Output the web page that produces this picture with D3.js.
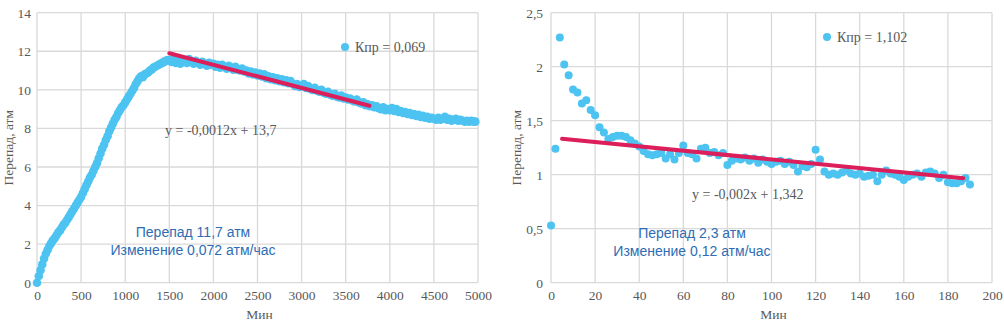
<!DOCTYPE html>
<html><head><meta charset="utf-8">
<script src="https://cdn.jsdelivr.net/npm/d3@7"></script>
<style>
html,body{margin:0;padding:0;background:#fff;}
svg{display:block;}
</style></head>
<body>
<svg id="c" width="1004" height="328"></svg>
<script>
// ---------- DATA ----------
// Left chart, rising part: time (min) and pressure drop (atm)
const leftRiseTime = [0,20,40,60,80,100,120,140,160,180,200,220,240,260,280,300,320,340,360,380,
 400,420,440,460,480,500,520,540,560,580,600,620,640,660,680,700,720,740,760,780,
 800,820,840,860,880,900,920,940,960,980,1000,1020,1040,1060,1080,1100,1120,1140,1160,1180,
 1200,1220,1240,1260,1280,1300,1320,1340,1360,1380,1400,1420,1440,1460,1480];
const leftRiseValue = [0.0,0.35,0.65,0.95,1.25,1.5,1.7,1.9,2.05,2.2,2.3,2.45,2.6,2.7,2.85,3.0,3.1,3.25,3.4,3.55,
 3.7,3.85,4.0,4.15,4.3,4.45,4.65,4.85,5.05,5.25,5.45,5.6,5.8,6.0,6.2,6.45,6.7,6.95,7.15,7.4,
 7.6,7.85,8.05,8.25,8.45,8.6,8.8,8.95,9.1,9.2,9.35,9.5,9.65,9.8,9.95,10.1,10.3,10.45,10.6,10.7,
 10.65,10.8,10.85,10.9,11.0,11.05,11.15,11.2,11.25,11.3,11.35,11.4,11.45,11.5,11.55];
// Left chart, falling part
const leftFallTime = [1500,1525,1550,1575,1600,1625,1650,1675,1700,1725,1750,1775,1800,1825,1850,1875,1900,1925,1950,1975,
 2000,2025,2050,2075,2100,2125,2150,2175,2200,2225,2250,2275,2300,2325,2350,2375,2400,2425,2450,2475,
 2500,2525,2550,2575,2600,2625,2650,2675,2700,2725,2750,2775,2800,2825,2850,2875,2900,2925,2950,2975,
 3000,3025,3050,3075,3100,3125,3150,3175,3200,3225,3250,3275,3300,3325,3350,3375,3400,3425,3450,3475,
 3500,3525,3550,3575,3600,3625,3650,3675,3700,3725,3750,3775,3800,3825,3850,3875,3900,3925,3950,3975,
 4000,4025,4050,4075,4100,4125,4150,4175,4200,4225,4250,4275,4300,4325,4350,4375,4400,4425,4450,4475,
 4500,4525,4550,4575,4600,4625,4650,4675,4700,4725,4750,4775,4800,4825,4850,4875,4900,4925,4950,4970];
const leftFallValue = [11.55,11.45,11.6,11.4,11.5,11.35,11.45,11.55,11.4,11.6,11.45,11.35,11.5,11.4,11.3,11.45,11.35,11.25,11.4,11.3,
 11.35,11.2,11.3,11.15,11.3,11.2,11.1,11.25,11.15,11.05,11.2,11.05,11.0,11.1,10.95,11.0,10.85,10.95,10.8,10.9,
 10.75,10.85,10.7,10.8,10.6,10.7,10.55,10.65,10.5,10.6,10.45,10.55,10.4,10.5,10.35,10.45,10.3,10.2,10.3,10.15,
 10.2,10.3,10.1,10.2,10.05,10.0,10.1,9.95,9.9,10.0,9.85,9.8,9.9,9.75,9.7,9.8,9.65,9.6,9.7,9.55,
 9.6,9.5,9.55,9.45,9.4,9.5,9.35,9.3,9.35,9.2,9.25,9.15,9.2,9.1,9.15,9.05,9.0,9.1,8.95,9.0,
 8.95,9.05,8.9,9.0,8.85,8.9,8.8,8.85,8.75,8.8,8.7,8.75,8.65,8.7,8.6,8.65,8.55,8.6,8.5,8.55,
 8.5,8.45,8.55,8.45,8.5,8.6,8.45,8.5,8.4,8.45,8.5,8.4,8.45,8.4,8.35,8.4,8.35,8.4,8.35,8.35];
const leftXTicks = [0,500,1000,1500,2000,2500,3000,3500,4000,4500,5000];
const leftYTicks = [0,2,4,6,8,10,12,14];
const leftTrend = {slope:-0.0012, intercept:13.7, from:1500, to:3770};
const leftLegend = "Кпр = 0,069";
const leftEquation = "y = -0,0012x + 13,7";
const leftNote = ["Перепад 11,7 атм","Изменение 0,072 атм/час"];

// Right chart
const rightTime = [0,2,4,6,8,10,12,14,16,18,20,22,24,26,28,30,32,34,36,38,40,42,44,46,48,50,52,54,56,58,
 60,62,64,66,68,70,72,74,76,78,80,82,84,86,88,90,92,94,96,98,100,102,104,106,108,110,112,114,116,118,
 120,122,124,126,128,130,132,134,136,138,140,142,144,146,148,150,152,154,156,158,160,162,164,166,168,170,
 172,174,176,178,180,182,184,186,188,190];
const rightValue = [0.53,1.24,2.27,2.02,1.92,1.79,1.76,1.66,1.69,1.60,1.55,1.44,1.39,1.33,1.35,1.36,1.36,1.35,1.32,1.29,
 1.26,1.22,1.19,1.18,1.19,1.20,1.15,1.19,1.14,1.20,1.27,1.20,1.19,1.15,1.24,1.25,1.20,1.21,1.18,1.20,
 1.09,1.13,1.15,1.14,1.16,1.13,1.15,1.11,1.14,1.12,1.10,1.12,1.13,1.10,1.12,1.09,1.03,1.08,1.07,1.10,
 1.23,1.14,1.03,1.00,1.01,1.00,1.02,1.04,1.01,1.00,1.01,0.98,0.99,1.00,0.94,1.00,1.04,1.01,1.00,0.98,
 0.95,0.98,1.00,1.01,0.98,1.02,1.03,1.01,0.97,1.00,0.93,0.92,0.92,0.94,0.97,0.91];
const rightXTicks = [0,20,40,60,80,100,120,140,160,180,200];
const rightYTicks = [0,0.5,1,1.5,2,2.5];
const rightTrend = {slope:-0.002, intercept:1.342, from:5, to:187};
const rightLegend = "Кпр = 1,102";
const rightEquation = "y = -0,002x + 1,342";
const rightNote = ["Перепад 2,3 атм","Изменение 0,12 атм/час"];

const xTitle = "Мин";
const yTitle = "Перепад, атм";

// ---------- STYLE ----------
const SERIF = "'Liberation Serif','Times New Roman',serif";
const SANS = "'Liberation Sans',Arial,sans-serif";
const GRAY = "#595959";
const GRID = "#d9d9d9";
const DOT = "#4cc3f0";
const TREND = "#dc1e5a";
const NOTE = "#2e6db4";
const fmt = d => String(d).replace(".", ",");

const svg = d3.select("#c");
svg.append("rect").attr("width",1004).attr("height",328).attr("fill","#fff");

function drawChart(o){
  const g = svg.append("g");
  const x = d3.scaleLinear().domain(o.xDomain).range([o.x0, o.x1]);
  const y = d3.scaleLinear().domain(o.yDomain).range([o.y0, o.y1]);

  // grid
  g.append("g").selectAll("line").data(o.xTicks).join("line")
    .attr("x1",d=>x(d)).attr("x2",d=>x(d)).attr("y1",o.y0).attr("y2",o.y1)
    .attr("stroke",GRID).attr("stroke-width",1.3);
  g.append("g").selectAll("line").data(o.yTicks).join("line")
    .attr("y1",d=>y(d)).attr("y2",d=>y(d)).attr("x1",o.x0).attr("x2",o.x1)
    .attr("stroke",GRID).attr("stroke-width",1.3);

  // axes (labels only)
  const xa = g.append("g").attr("transform",`translate(0,${o.y0})`)
    .call(d3.axisBottom(x).tickValues(o.xTicks).tickFormat(fmt).tickSize(0).tickPadding(8));
  xa.select(".domain").remove();
  xa.selectAll("text").attr("font-family",SERIF).attr("font-size",13.5).attr("fill",GRAY);
  const ya = g.append("g").attr("transform",`translate(${o.x0},0)`)
    .call(d3.axisLeft(y).tickValues(o.yTicks).tickFormat(fmt).tickSize(0).tickPadding(o.yPad));
  ya.select(".domain").remove();
  ya.selectAll("text").attr("font-family",SERIF).attr("font-size",13.5).attr("fill",GRAY);

  // titles
  g.append("text").attr("x",(o.x0+o.x1)/2+2).attr("y",319).attr("text-anchor","middle")
    .attr("font-family",SERIF).attr("font-size",13.5).attr("fill",GRAY).text(xTitle);
  g.append("text").attr("transform",`translate(${o.yTitleX},${(o.y0+o.y1)/2}) rotate(-90)`)
    .attr("text-anchor","middle").attr("font-family",SERIF).attr("font-size",13.5).attr("fill",GRAY).text(yTitle);

  // dots
  o.series.forEach(s=>{
    const pts = s.t.map((t,i)=>({t, v:s.v[i]}));
    g.append("g").selectAll("circle").data(pts).join("circle")
      .attr("cx",d=>x(d.t)).attr("cy",d=>y(d.v)).attr("r",o.r).attr("fill",DOT);
  });

  // trend
  const tr = o.trend;
  g.append("line")
    .attr("x1",x(tr.from)).attr("y1",y(tr.slope*tr.from+tr.intercept))
    .attr("x2",x(tr.to)).attr("y2",y(tr.slope*tr.to+tr.intercept))
    .attr("stroke",TREND).attr("stroke-width",4).attr("stroke-linecap","round");

  // legend
  g.append("circle").attr("cx",o.legX).attr("cy",o.legY).attr("r",4).attr("fill",DOT);
  g.append("text").attr("x",o.legX+10).attr("y",o.legY+5).attr("font-family",SERIF)
    .attr("font-size",14).attr("fill",GRAY).text(o.legend);

  // equation
  g.append("text").attr("x",o.eqX).attr("y",o.eqY).attr("font-family",SERIF)
    .attr("font-size",14).attr("fill",GRAY).text(o.equation);

  // note
  o.note.forEach((s,i)=>{
    g.append("text").attr("x",o.noteX).attr("y",o.noteY+i*18).attr("text-anchor","middle")
      .attr("font-family",SANS).attr("font-size",14).attr("fill",NOTE).text(s);
  });
}

drawChart({
  xDomain:[0,5000], yDomain:[0,14], x0:37, x1:478, y0:282.7, y1:12.7,
  xTicks:leftXTicks, yTicks:leftYTicks, yPad:6, yTitleX:13,
  series:[{t:leftRiseTime, v:leftRiseValue},{t:leftFallTime, v:leftFallValue}], r:4.3, trend:leftTrend,
  legX:345, legY:47, legend:leftLegend,
  eqX:165, eqY:135, equation:leftEquation,
  noteX:193, noteY:237, note:leftNote
});
drawChart({
  xDomain:[0,200], yDomain:[0,2.5], x0:551, x1:992, y0:282.7, y1:12.7,
  xTicks:rightXTicks, yTicks:rightYTicks, yPad:8, yTitleX:521,
  series:[{t:rightTime, v:rightValue}], r:4, trend:rightTrend,
  legX:827, legY:37, legend:rightLegend,
  eqX:692, eqY:199, equation:rightEquation,
  noteX:692, noteY:238, note:rightNote
});
</script>
</body></html>
